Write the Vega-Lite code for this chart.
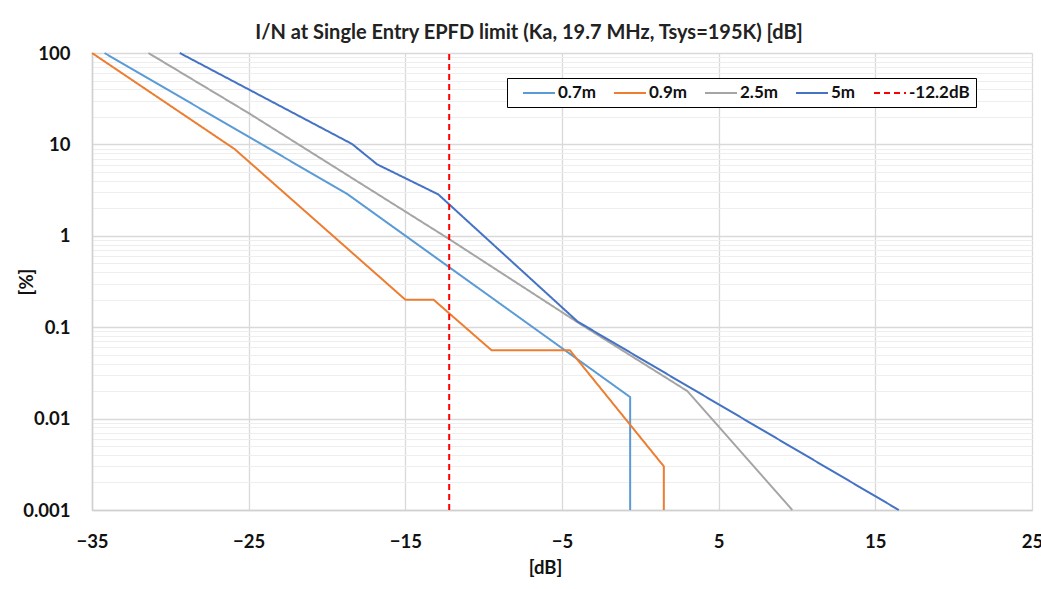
{
  "$schema": "https://vega.github.io/schema/vega-lite/v6.json",
  "width": 940,
  "height": 457,
  "autosize": {"type": "none"},
  "padding": {"left": 92, "top": 53, "right": 9, "bottom": 79},
  "background": "white",
  "config": {"font": "Lato", "view": {"stroke": null}},
  "title": {
    "text": "I/N at Single Entry EPFD limit (Ka, 19.7 MHz, Tsys=195K) [dB]",
    "fontSize": 20,
    "fontWeight": "bold",
    "color": "#222222",
    "dx": -33,
    "offset": 1
  },
  "data": {
    "values": [
      {"s": "0.7m", "i": 0, "x": -34.2, "y": 100},
      {"s": "0.7m", "i": 1, "x": -18.7, "y": 2.86},
      {"s": "0.7m", "i": 2, "x": -0.65, "y": 0.0172},
      {"s": "0.7m", "i": 3, "x": -0.65, "y": 0.001},
      {"s": "0.9m", "i": 0, "x": -35, "y": 100},
      {"s": "0.9m", "i": 1, "x": -25.9, "y": 8.9},
      {"s": "0.9m", "i": 2, "x": -15, "y": 0.2},
      {"s": "0.9m", "i": 3, "x": -13.2, "y": 0.2},
      {"s": "0.9m", "i": 4, "x": -9.5, "y": 0.056},
      {"s": "0.9m", "i": 5, "x": -4.5, "y": 0.056},
      {"s": "0.9m", "i": 6, "x": 1.5, "y": 0.003},
      {"s": "0.9m", "i": 7, "x": 1.5, "y": 0.001},
      {"s": "2.5m", "i": 0, "x": -31.4, "y": 100},
      {"s": "2.5m", "i": 1, "x": -25, "y": 22},
      {"s": "2.5m", "i": 2, "x": -12.2, "y": 0.92},
      {"s": "2.5m", "i": 3, "x": -4, "y": 0.113},
      {"s": "2.5m", "i": 4, "x": 3, "y": 0.02},
      {"s": "2.5m", "i": 5, "x": 9.7, "y": 0.001},
      {"s": "5m", "i": 0, "x": -29.4, "y": 100},
      {"s": "5m", "i": 1, "x": -18.4, "y": 10.1},
      {"s": "5m", "i": 2, "x": -16.8, "y": 6.05},
      {"s": "5m", "i": 3, "x": -12.9, "y": 2.84},
      {"s": "5m", "i": 4, "x": -4, "y": 0.115},
      {"s": "5m", "i": 5, "x": 16.5, "y": 0.001},
      {"s": "-12.2dB", "i": 0, "x": -12.2, "y": 0.001},
      {"s": "-12.2dB", "i": 1, "x": -12.2, "y": 100}
    ]
  },
  "layer": [
    {
      "mark": {"type": "line", "strokeOpacity": 0},
      "encoding": {
        "x": {
          "field": "x",
          "type": "quantitative",
          "scale": {"domain": [-35, 25], "nice": false, "zero": false},
          "axis": {
            "values": [-35, -25, -15, -5, 5, 15, 25],
            "grid": true,
            "gridColor": "#d9d9d9",
            "gridWidth": 1.3,
            "domainColor": "#d0d0d0",
            "domainWidth": 1.5,
            "ticks": false,
            "labelFontSize": 18.5,
            "labelFontWeight": "bold",
            "labelColor": "#111111",
            "labelPadding": 22,
            "labelFlush": false,
            "title": "[dB]",
            "titleFontSize": 18.5,
            "titleFontWeight": "bold",
            "titleColor": "#111111",
            "titleX": 453,
            "titleY": 57,
            "titleBaseline": "middle"
          }
        },
        "y": {
          "field": "y",
          "type": "quantitative",
          "scale": {"type": "log", "domain": [0.001, 100], "nice": false},
          "axis": {
            "orient": "left",
            "values": [0.002,0.003,0.004,0.005,0.006,0.007,0.008,0.009,0.02,0.03,0.04,0.05,0.06,0.07,0.08,0.09,0.2,0.3,0.4,0.5,0.6,0.7,0.8,0.9,2,3,4,5,6,7,8,9,20,30,40,50,60,70,80,90],
            "grid": true,
            "gridColor": "#eeeeee",
            "gridWidth": 1,
            "labels": false,
            "ticks": false,
            "domain": false,
            "title": null
          }
        },
        "detail": {"field": "s"},
        "order": {"field": "i"}
      }
    },
    {
      "mark": {"type": "line", "strokeWidth": 2},
      "encoding": {
        "x": {
          "field": "x",
          "type": "quantitative",
          "scale": {"domain": [-35, 25], "nice": false, "zero": false},
          "axis": {
            "values": [-35, -25, -15, -5, 5, 15, 25],
            "grid": true,
            "gridColor": "#d9d9d9",
            "gridWidth": 1.3,
            "domainColor": "#d0d0d0",
            "domainWidth": 1.5,
            "ticks": false,
            "labelFontSize": 18.5,
            "labelFontWeight": "bold",
            "labelColor": "#111111",
            "labelPadding": 22,
            "labelFlush": false,
            "title": "[dB]",
            "titleFontSize": 18.5,
            "titleFontWeight": "bold",
            "titleColor": "#111111",
            "titleX": 453,
            "titleY": 57,
            "titleBaseline": "middle"
          }
        },
        "y": {
          "field": "y",
          "type": "quantitative",
          "scale": {"type": "log", "domain": [0.001, 100], "nice": false},
          "axis": {
            "orient": "left",
            "values": [0.001, 0.01, 0.1, 1, 10, 100],
            "format": "~g",
            "grid": true,
            "gridColor": "#d9d9d9",
            "gridWidth": 1.3,
            "domainColor": "#d0d0d0",
            "domainWidth": 1.5,
            "ticks": false,
            "labelFontSize": 18.5,
            "labelFontWeight": "bold",
            "labelColor": "#111111",
            "labelPadding": 22,
            "title": "[%]",
            "titleFontSize": 18.5,
            "titleFontWeight": "bold",
            "titleColor": "#111111",
            "titleX": -66,
            "titleY": 228.5,
            "titleBaseline": "middle",
            "titleAlign": "center"
          }
        },
        "color": {
          "field": "s",
          "type": "nominal",
          "scale": {
            "domain": ["0.7m", "0.9m", "2.5m", "5m", "-12.2dB"],
            "range": ["#5B9BD5", "#ED7D31", "#A5A5A5", "#4472C4", "#FF0000"]
          },
          "legend": {
            "title": null,
            "orient": "none",
            "legendX": 415,
            "legendY": 25,
            "direction": "horizontal",
            "strokeColor": "#000000",
            "fillColor": "#ffffff",
            "padding": 6,
            "symbolType": "M-2,0H2",
            "symbolSize": 256,
            "symbolOffset": 17,
            "symbolStrokeWidth": 2,
            "labelFontSize": 17,
            "labelFontWeight": "bold",
            "labelColor": "#111111",
            "labelOffset": 10,
            "columnPadding": 8
          }
        },
        "strokeDash": {
          "field": "s",
          "type": "nominal",
          "scale": {
            "domain": ["0.7m", "0.9m", "2.5m", "5m", "-12.2dB"],
            "range": [[1, 0], [1, 0], [1, 0], [1, 0], [6, 4]]
          },
          "legend": {
            "title": null,
            "orient": "none",
            "legendX": 415,
            "legendY": 25,
            "direction": "horizontal",
            "symbolType": "M-2,0H2",
            "symbolSize": 256,
            "symbolOffset": 17,
            "labelOffset": 10,
            "columnPadding": 8,
            "padding": 6
          }
        },
        "order": {"field": "i"}
      }
    }
  ],
  "resolve": {"axis": {"y": "independent"}}
}
